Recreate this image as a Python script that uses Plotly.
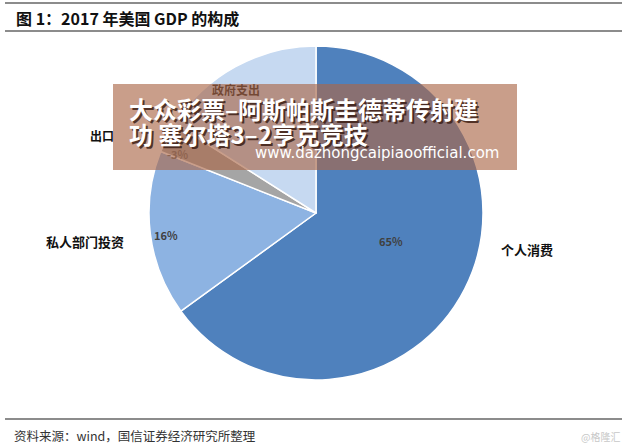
import plotly.graph_objects as go

W, H = 627, 446

categories = ["个人消费", "私人部门投资", "出口", "政府支出"]
shares = [65, 16, 3, 16]          # slice sizes (%)
pct_labels = ["65%", "16%", "-3%", "16%"]
colors = ["#4F81BD", "#8DB3E2", "#A5A5A5", "#C6D9F1"]

title_text = "图 1：2017 年美国 GDP 的构成"
source_text = "资料来源：wind，国信证券经济研究所整理"
brand_text = "@格隆汇"
banner_line1 = "大众彩票–阿斯帕斯圭德蒂传射建"
banner_line2 = "功 塞尔塔3–2亨克竞技"
banner_url = "www.dazhongcaipiaoofficial.com"

CJK = "Noto Sans CJK SC"

def px(x):
    return x / W

def py(y):
    return 1 - y / H

cx, cy, r = 316, 213, 167

fig = go.Figure()
fig.add_trace(go.Pie(
    labels=categories,
    values=shares,
    sort=False,
    direction="clockwise",
    rotation=0,
    marker=dict(colors=colors, line=dict(color="white", width=1.5)),
    textinfo="none",
    hoverinfo="label+value",
    showlegend=False,
    domain=dict(x=[px(cx - r), px(cx + r)], y=[py(cy + r), py(cy - r)]),
))

ann = []
def txt(x, y, s, size, color, xanchor="center", family=CJK, bold=False):
    ann.append(dict(x=px(x), y=py(y), xref="paper", yref="paper", text=(f"<b>{s}</b>" if bold else s),
                    showarrow=False, xanchor=xanchor, yanchor="middle",
                    font=dict(family=family, size=size, color=color)))

# title & footer
txt(14, 18, title_text, 16, "#111111", xanchor="left", bold=True)
txt(12, 435, source_text, 12.5, "#333333", xanchor="left")
txt(622, 436, brand_text, 10, "#C8C8C8", xanchor="right")

# category labels (outside)
txt(527, 250, categories[0], 13, "#111111", bold=True)
txt(85, 241, categories[1], 13, "#111111", bold=True)
txt(102, 135, categories[2], 12, "#111111", bold=True)
txt(236, 89, categories[3], 12, "#111111", bold=True)

# percentage labels (inside)
txt(391, 241, pct_labels[0], 11, "#404040", bold=True)
txt(166, 235, pct_labels[1], 11, "#404040", bold=True)
txt(178, 154, pct_labels[2], 11, "#606060", bold=True)

# overlay banner (drawn after labels so it sits on top)
ann.append(dict(x=px(113), y=py(84), xref="paper", yref="paper", text=" ",
                showarrow=False, xanchor="left", yanchor="top",
                width=404, height=86, borderpad=0, borderwidth=0,
                bgcolor="rgba(171,103,72,0.64)"))
for dx, dy, col in [(2, 2, "rgba(60,30,20,0.85)"), (0, 0, "white")]:
    ann.append(dict(x=px(127 + dx), y=py(108 + dy), xref="paper", yref="paper",
                    text=f"<b>{banner_line1}</b>", showarrow=False, xanchor="left", yanchor="middle",
                    font=dict(family=CJK, size=24, color=col)))
    ann.append(dict(x=px(127 + dx), y=py(133 + dy), xref="paper", yref="paper",
                    text=f"<b>{banner_line2}</b>", showarrow=False, xanchor="left", yanchor="middle",
                    font=dict(family=CJK, size=24, color=col)))
ann.append(dict(x=px(501), y=py(153), xref="paper", yref="paper", text=banner_url,
                showarrow=False, xanchor="right", yanchor="middle",
                font=dict(family="DejaVu Sans", size=15, color="white")))

shapes = [
    dict(type="line", xref="paper", yref="paper", x0=px(5), x1=px(622), y0=py(3), y1=py(3),
         line=dict(color="#8C8C8C", width=2)),
    dict(type="line", xref="paper", yref="paper", x0=px(5), x1=px(622), y0=py(31), y1=py(31),
         line=dict(color="#8C8C8C", width=2)),
    dict(type="line", xref="paper", yref="paper", x0=px(5), x1=px(622), y0=py(419), y1=py(419),
         line=dict(color="#8C8C8C", width=2)),
]

fig.update_layout(
    width=W, height=H,
    margin=dict(l=0, r=0, t=0, b=0),
    paper_bgcolor="white", plot_bgcolor="white",
    annotations=ann, shapes=shapes,
)

fig.write_html("out.html")
